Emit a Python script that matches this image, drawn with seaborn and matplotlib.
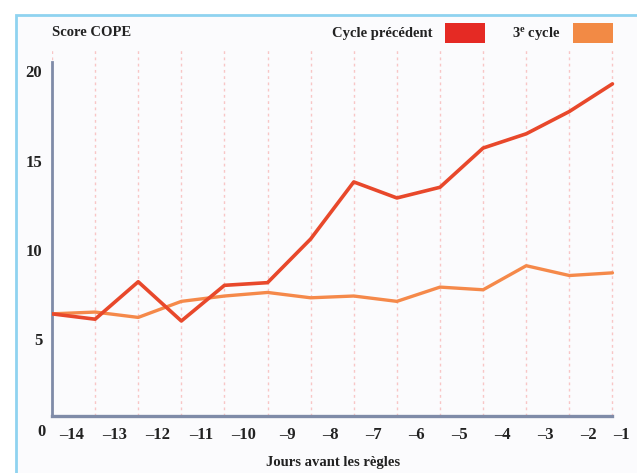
import numpy as np
import pandas as pd
import seaborn as sns
from matplotlib import pyplot as plt
from matplotlib.patches import Rectangle

days = [-14, -13, -12, -11, -10, -9, -8, -7, -6, -5, -4, -3, -2, -1]
cycle_prec = [6.4, 6.1, 8.2, 6.0, 8.0, 8.15, 10.6, 13.8, 12.9, 13.5, 15.7, 16.5, 17.75, 19.3]
cycle_3 = [6.4, 6.5, 6.2, 7.1, 7.4, 7.6, 7.3, 7.4, 7.1, 7.9, 7.75, 9.1, 8.55, 8.7]
series_names = ["Cycle précédent", "3$^{\\mathregular{e}}$ cycle"]
y_ticks = [5, 10, 15, 20]
x_labels = ["\u201314", "\u201313", "\u201312", "\u201311", "\u201310", "\u20139", "\u20138",
            "\u20137", "\u20136", "\u20135", "\u20134", "\u20133", "\u20132", "\u20131"]

red = "#E8482B"
orange = "#F5894A"
pink = "#F6B4B4"

df = pd.DataFrame({
    "day": days * 2,
    "score": cycle_prec + cycle_3,
    "serie": [series_names[0]] * len(days) + [series_names[1]] * len(days),
})

sns.set_theme(style="white")
plt.rcParams['font.family'] = ['Liberation Serif', 'DejaVu Serif']
plt.rcParams['font.weight'] = 'bold'
plt.rcParams['mathtext.default'] = 'regular'

fig = plt.figure(figsize=(6.37, 4.73), dpi=100)
fig.patch.set_facecolor("white")

# light blue frame + pale background (behind the axes)
bg = Rectangle((16 / 637, -0.1), 1, 1.1 - 15 / 473, transform=fig.transFigure,
               facecolor="#FBFBFD", edgecolor="#8FD3F0", linewidth=2, zorder=-5)
fig.patches.append(bg)

ax = fig.add_axes([52 / 637, 57 / 473, 582 / 637, 366 / 473])
ax.set_facecolor("none")

sns.lineplot(data=df, x="day", y="score", hue="serie",
             palette=[red, orange], linewidth=2.4, ax=ax, legend=False)
# red line on top
ax.lines[0].set_zorder(4)
ax.lines[0].set_linewidth(2.6)
ax.lines[1].set_zorder(3)

ax.set_xlim(-14, -0.5)
ax.set_ylim(0.67, 21.2)

# vertical dotted grid and pink separators under the axis
ax.set_xticks(days)
ax.set_xticklabels([])
ax.tick_params(axis="x", which="major", length=19, width=1.5, color="#F8C0C0",
               direction="out")
ax.grid(axis="x", which="major", color="#F8C6C6", linestyle=(0, (2, 2.5)),
        linewidth=1)
ax.grid(axis="y", visible=False)

label_pos = [d + 0.45 for d in days[:-1]] + [days[-1] + 0.22]
ax.set_xticks(label_pos, minor=True)
ax.set_xticklabels(x_labels, minor=True, fontsize=12, fontweight="bold")
ax.tick_params(axis="x", which="minor", length=0, pad=8, colors="#222222")

ax.set_yticks(y_ticks)
ax.set_yticklabels([str(v) for v in y_ticks], fontsize=12, fontweight="bold",
                   color="#222222")
ax.tick_params(axis="y", length=0, pad=7)

for s in ["top", "right"]:
    ax.spines[s].set_visible(False)
ax.spines["left"].set_color("#7F8BA8")
ax.spines["bottom"].set_color("#7F8BA8")
ax.spines["left"].set_linewidth(2)
ax.spines["bottom"].set_linewidth(2.4)
ax.spines["left"].set_bounds(0.67, 20.5)
ax.spines["bottom"].set_bounds(-14, -1)
ax.set_xlabel("")
ax.set_ylabel("")

fig.text(41 / 637, 1 - 432 / 473, "0", fontsize=12, fontweight="bold",
         color="#222222", ha="center", va="center")
fig.text(52 / 637, 1 - 33 / 473, "Score COPE", fontsize=10.5, fontweight="bold",
         color="#222222", ha="left", va="center")
fig.text(333 / 637, 1 - 462 / 473, "Jours avant les règles", fontsize=10.5,
         fontweight="bold", color="#222222", ha="center", va="center")

# legend
fig.text(432 / 637, 1 - 33 / 473, series_names[0], fontsize=10.5, fontweight="bold",
         color="#222222", ha="right", va="center")
fig.patches.append(Rectangle((445 / 637, 1 - 43 / 473), 40 / 637, 20 / 473,
                             transform=fig.transFigure, facecolor="#E52A24",
                             edgecolor="none"))
fig.text(560 / 637, 1 - 33 / 473, series_names[1], fontsize=10.5, fontweight="bold",
         color="#222222", ha="right", va="center")
fig.patches.append(Rectangle((573 / 637, 1 - 43 / 473), 40 / 637, 20 / 473,
                             transform=fig.transFigure, facecolor="#F28A45",
                             edgecolor="none"))

fig.savefig("out.png", dpi=100)
